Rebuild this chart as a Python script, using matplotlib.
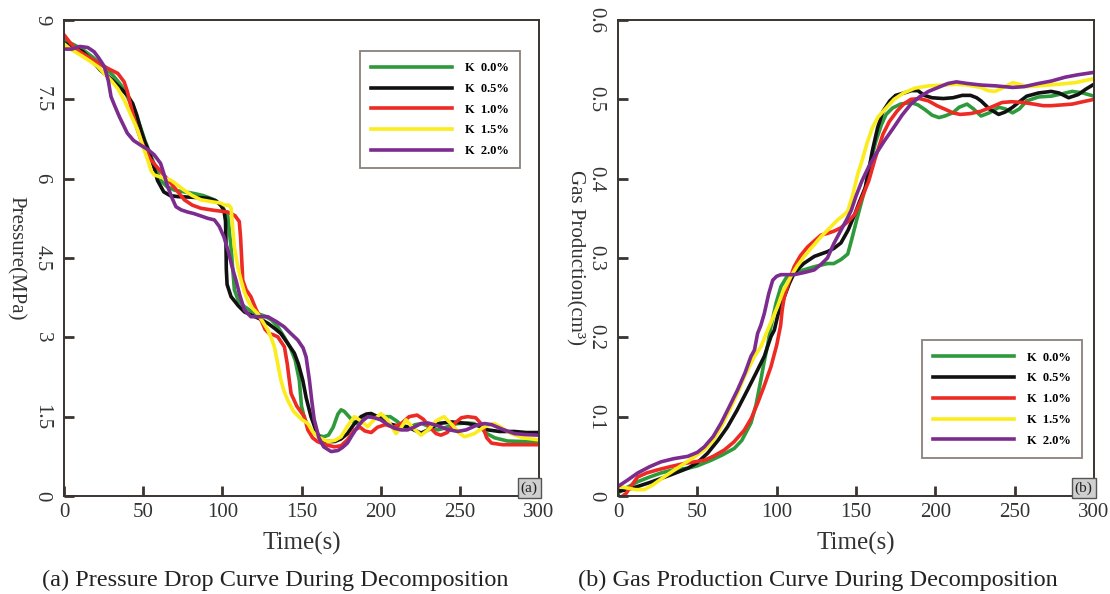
import matplotlib
matplotlib.use("Agg")
import matplotlib.pyplot as plt

plt.rcParams["font.family"] = ["Liberation Serif", "DejaVu Serif"]

# ---- (a) pressure, MPa ----
p_green_t = [0, 5, 11, 18, 25, 31, 36, 40, 44, 48, 51, 56, 61, 65, 70, 76, 82, 88, 95, 99, 101, 103.4, 105.5, 107.6, 110, 114, 118, 122, 127, 131, 135, 139, 143, 146, 148.6, 150, 152, 156, 160, 164, 167, 170, 173, 175, 177, 180, 183, 186, 189, 192, 199, 206, 210, 214, 218, 222, 226, 230, 236, 240, 245, 249, 255, 259, 263, 267, 272, 280, 290, 300]
p_green = [8.62, 8.55, 8.46, 8.3, 8.12, 7.95, 7.77, 7.55, 7.3, 7.0, 6.73, 6.35, 5.97, 5.85, 5.78, 5.75, 5.72, 5.68, 5.6, 5.5, 5.42, 5.3, 4.7, 3.9, 3.7, 3.58, 3.5, 3.45, 3.4, 3.33, 3.2, 3.01, 2.8, 2.57, 2.19, 1.7, 1.45, 1.25, 1.15, 1.12, 1.15, 1.3, 1.55, 1.63, 1.6, 1.5, 1.4, 1.37, 1.45, 1.5, 1.5, 1.5, 1.42, 1.32, 1.3, 1.35, 1.37, 1.32, 1.25, 1.28, 1.35, 1.37, 1.38, 1.37, 1.3, 1.18, 1.1, 1.04, 1.03, 1.03]

p_black_t = [0, 5, 12, 18, 23, 30, 36, 40, 43.4, 46, 48.6, 51, 54, 57, 59, 63, 67, 72, 80, 86, 91, 96, 99, 101, 102, 102.3, 102.5, 103, 105.5, 110, 114, 120, 125, 129, 133, 137, 141, 145.5, 148, 150.8, 153, 156, 159, 162, 166, 171, 175, 179, 183, 187.6, 191, 194, 198, 204.5, 210, 217, 221, 225.5, 230, 236, 245, 255, 262, 267.7, 275, 284.5, 292, 300]
p_black = [8.57, 8.5, 8.4, 8.22, 8.05, 7.88, 7.7, 7.58, 7.42, 7.2, 6.92, 6.7, 6.48, 6.2, 5.97, 5.75, 5.68, 5.66, 5.65, 5.64, 5.63, 5.58, 5.5, 5.4, 5.2, 4.8, 4.3, 4.0, 3.77, 3.6, 3.48, 3.4, 3.33, 3.26, 3.17, 3.07, 2.9, 2.7, 2.5, 2.19, 1.85, 1.5, 1.25, 1.06, 1.03, 1.03, 1.08, 1.18, 1.35, 1.5, 1.55, 1.56, 1.5, 1.37, 1.33, 1.31, 1.25, 1.19, 1.25, 1.37, 1.4, 1.37, 1.33, 1.25, 1.22, 1.22, 1.2, 1.2]

p_red_t = [0, 4.4, 10, 17, 25.5, 30, 34, 38, 40, 42.3, 45, 48.6, 52, 55, 61.3, 67.6, 72, 76, 81, 86.5, 95, 103.4, 105.5, 108, 110.7, 111.5, 112.2, 112.9, 115, 118, 121, 124.4, 127, 129.7, 132, 135, 139.2, 141, 142.3, 143.4, 147, 151.8, 154, 157, 160, 165, 170.8, 175, 179, 183.4, 187, 190, 194, 198, 203, 208, 213, 218, 223, 227, 231, 235, 238, 242, 247, 251, 255, 260, 264, 267, 270, 277, 290, 300]
p_red = [8.72, 8.55, 8.4, 8.27, 8.12, 8.05, 7.99, 7.83, 7.65, 7.36, 7.05, 6.73, 6.5, 6.35, 6.13, 5.91, 5.75, 5.6, 5.5, 5.44, 5.4, 5.37, 5.34, 5.3, 5.19, 4.9, 4.5, 4.08, 3.9, 3.77, 3.55, 3.33, 3.15, 3.07, 3.05, 3.01, 2.82, 2.5, 2.19, 1.94, 1.7, 1.5, 1.25, 1.1, 1.03, 0.97, 0.93, 0.95, 1.06, 1.25, 1.3, 1.23, 1.2, 1.3, 1.35, 1.3, 1.37, 1.5, 1.53, 1.45, 1.3, 1.18, 1.15, 1.2, 1.38, 1.48, 1.5, 1.48, 1.35, 1.1, 1.0, 0.97, 0.97, 0.97]

p_yellow_t = [0, 4, 8.6, 15, 21.3, 25, 29.7, 34, 38, 42, 46.5, 50, 52.9, 55, 57, 62, 67.6, 72, 76, 81, 86.5, 94, 99, 101.3, 104, 105.5, 106.5, 107.6, 110, 111.8, 114, 116, 119, 122.3, 125, 128.7, 131, 132.9, 135, 137, 139, 141.3, 145, 150, 154, 157, 160.2, 166.6, 171, 175, 179, 183.4, 187, 191.8, 196, 200.2, 204, 209.7, 213, 216, 220, 225.5, 230, 235, 240, 245, 250, 253, 259.2, 265, 271.8, 276, 282.4, 290, 300]
p_yellow = [8.55, 8.45, 8.37, 8.25, 8.12, 8.0, 7.86, 7.7, 7.49, 7.22, 6.92, 6.6, 6.35, 6.15, 6.07, 6.02, 5.97, 5.87, 5.78, 5.68, 5.6, 5.56, 5.54, 5.5, 5.5, 5.45, 5.1, 4.71, 4.3, 4.08, 3.85, 3.7, 3.55, 3.45, 3.32, 3.14, 2.98, 2.82, 2.5, 2.19, 1.98, 1.81, 1.6, 1.45, 1.37, 1.22, 1.12, 1.03, 1.05, 1.12, 1.32, 1.5, 1.43, 1.31, 1.45, 1.56, 1.45, 1.18, 1.3, 1.44, 1.3, 1.15, 1.25, 1.42, 1.5, 1.35, 1.18, 1.12, 1.18, 1.3, 1.37, 1.3, 1.18, 1.1, 1.06]

p_purple_t = [0, 5, 10, 15, 19, 22, 25.5, 28, 29.7, 32, 35, 40, 44, 48.6, 53, 57, 61, 63, 65.5, 68, 70.7, 74, 78, 82, 86, 90.8, 95, 98, 101, 104, 106, 108.6, 111, 113.9, 118, 124, 128.7, 134, 139, 143, 147.6, 151, 152.9, 155, 156.5, 158, 161, 164, 168.7, 173, 176, 179, 182, 185.5, 188.5, 191.8, 196, 200, 204, 208.7, 213, 217, 221, 225.5, 230, 236, 242, 248.7, 254, 260, 265.5, 270, 277, 284.5, 292, 300]
p_purple = [8.45, 8.45, 8.5, 8.48, 8.4, 8.28, 8.12, 7.85, 7.55, 7.38, 7.17, 6.86, 6.72, 6.63, 6.55, 6.45, 6.29, 6.1, 5.85, 5.65, 5.47, 5.41, 5.37, 5.34, 5.3, 5.25, 5.22, 5.1, 4.9, 4.6, 4.35, 4.08, 3.8, 3.52, 3.39, 3.39, 3.39, 3.3, 3.2, 3.08, 2.95, 2.8, 2.63, 2.19, 1.8, 1.45, 1.1, 0.93, 0.84, 0.86, 0.92, 1.0, 1.15, 1.31, 1.42, 1.5, 1.48, 1.44, 1.36, 1.28, 1.25, 1.25, 1.3, 1.37, 1.38, 1.33, 1.26, 1.22, 1.25, 1.33, 1.37, 1.35, 1.26, 1.18, 1.16, 1.15]

# ---- (b) gas production, cm3 ----
g_green_t = [0, 5, 12.4, 20, 27, 35, 44, 50, 58.6, 66, 73.3, 78, 83.8, 87, 90, 92, 94.3, 96, 99.6, 102.7, 106, 111, 117, 123.7, 132, 136, 140.5, 144.8, 147.5, 150.3, 155.9, 159, 162.5, 166, 169, 173, 178, 184.6, 189, 193.5, 198, 202.3, 206, 211, 215, 220, 224, 228.8, 234, 240, 244, 248.7, 253, 257.6, 265, 273, 280, 286.3, 293, 300]
g_green = [0.004, 0.01, 0.018, 0.024, 0.029, 0.033, 0.035, 0.038, 0.045, 0.052, 0.06, 0.07, 0.092, 0.115, 0.146, 0.168, 0.19, 0.21, 0.243, 0.264, 0.275, 0.281, 0.285, 0.289, 0.293, 0.293, 0.298, 0.305, 0.325, 0.347, 0.389, 0.42, 0.447, 0.468, 0.481, 0.489, 0.494, 0.496, 0.493, 0.487, 0.48, 0.477, 0.479, 0.483, 0.49, 0.494, 0.488, 0.479, 0.483, 0.49, 0.488, 0.483, 0.488, 0.498, 0.503, 0.504, 0.507, 0.51, 0.508, 0.504]

g_black_t = [0, 6, 12.4, 20, 27, 35, 44, 50, 56.5, 63, 69, 75, 81.7, 87, 92.2, 96.4, 98.5, 101, 104.8, 108, 111, 117, 123.7, 132, 136, 140.5, 145, 149.2, 152, 155.9, 158, 160.3, 163.6, 167, 171.3, 175, 180.2, 185, 189, 193, 197.9, 205, 211.1, 217, 222.2, 226, 228.8, 234, 239.9, 244, 248.7, 253, 257.6, 265, 273, 278, 284, 290, 295, 300]
g_black = [0.006, 0.008, 0.012, 0.017, 0.022, 0.028, 0.035, 0.042, 0.054, 0.07, 0.087, 0.108, 0.134, 0.155, 0.176, 0.201, 0.209, 0.23, 0.251, 0.268, 0.281, 0.293, 0.302, 0.308, 0.312, 0.319, 0.335, 0.355, 0.37, 0.389, 0.41, 0.435, 0.464, 0.485, 0.498, 0.505, 0.508, 0.511, 0.511, 0.505, 0.502, 0.501, 0.502, 0.505, 0.505, 0.502, 0.498, 0.488, 0.481, 0.484, 0.49, 0.497, 0.504, 0.508, 0.51, 0.508, 0.502, 0.506, 0.513, 0.519]

g_red_t = [3, 5, 8, 12.4, 18, 25, 33, 41.8, 48, 54.4, 60, 67, 73, 79.6, 84, 88, 92, 96.4, 100, 102.5, 103.5, 104.8, 108, 111, 115, 119.5, 124, 128, 132, 136.3, 140.4, 145, 149.2, 153, 158, 162, 167, 171, 175.8, 180, 184.6, 190, 195.7, 201, 206.7, 211, 215.6, 222, 228.8, 235, 242, 248, 255.4, 262, 268, 273, 280, 286.3, 293, 300]
g_red = [0.0, 0.003, 0.012, 0.024, 0.029, 0.033, 0.037, 0.041, 0.043, 0.045, 0.05, 0.058, 0.068, 0.083, 0.098, 0.117, 0.138, 0.163, 0.19, 0.215, 0.235, 0.251, 0.272, 0.289, 0.303, 0.314, 0.322, 0.329, 0.331, 0.334, 0.338, 0.346, 0.355, 0.372, 0.397, 0.425, 0.456, 0.472, 0.485, 0.494, 0.5, 0.501, 0.498, 0.492, 0.487, 0.483, 0.481, 0.482, 0.485, 0.49, 0.496, 0.497, 0.496, 0.494, 0.492, 0.492, 0.493, 0.494, 0.497, 0.5]

g_yellow_t = [0, 3, 6, 11, 16.6, 22, 29, 35, 41.8, 48, 54.4, 60, 65, 70, 75.4, 80, 86, 90, 94.3, 100.6, 104, 109, 113, 117.4, 122, 128, 133, 138.4, 141, 144.8, 148, 151, 153.7, 157, 160.3, 164, 169, 174, 180, 187, 195.7, 205, 213.3, 220, 228.8, 233, 237.7, 243, 248.7, 253, 257.6, 265, 277.5, 288, 300]
g_yellow = [0.012, 0.011, 0.01, 0.008, 0.008, 0.014, 0.024, 0.032, 0.041, 0.049, 0.058, 0.07, 0.087, 0.107, 0.13, 0.152, 0.176, 0.188, 0.209, 0.239, 0.258, 0.277, 0.29, 0.302, 0.313, 0.327, 0.337, 0.348, 0.352, 0.359, 0.38, 0.405, 0.422, 0.445, 0.464, 0.478, 0.489, 0.5, 0.508, 0.514, 0.517, 0.518, 0.519, 0.518, 0.515, 0.511, 0.51, 0.515, 0.521, 0.519, 0.516, 0.517, 0.519, 0.521, 0.526]

g_purple_t = [0, 6, 12.4, 20, 27, 35, 44, 50, 54.4, 60, 65, 70, 75.4, 80, 83.8, 86, 88, 90, 92.2, 95, 97.5, 100, 102.7, 111, 118, 123.7, 128, 132, 136, 140.5, 144, 147, 150, 153.7, 158, 162.5, 168, 173.6, 179, 184.6, 190, 195.7, 203, 208, 213.3, 220, 228.8, 238, 248.7, 256, 265, 273, 282, 290, 300]
g_purple = [0.012, 0.02, 0.029, 0.037, 0.043, 0.047, 0.05, 0.055, 0.062, 0.075, 0.092, 0.112, 0.134, 0.155, 0.176, 0.184, 0.205, 0.215, 0.23, 0.255, 0.272, 0.277, 0.279, 0.279, 0.282, 0.285, 0.292, 0.3, 0.318, 0.335, 0.348, 0.36, 0.378, 0.397, 0.415, 0.431, 0.448, 0.464, 0.48, 0.494, 0.503, 0.51, 0.516, 0.52, 0.522, 0.52, 0.518, 0.517, 0.515, 0.516, 0.52, 0.523, 0.528, 0.531, 0.534]

labels = ["K  0.0%", "K  0.5%", "K  1.0%", "K  1.5%", "K  2.0%"]
colors = ["#2e9a3c", "#111111", "#ee2a24", "#fbec1c", "#7c2c8e"]

pressure = [(p_green_t, p_green), (p_black_t, p_black), (p_red_t, p_red),
            (p_yellow_t, p_yellow), (p_purple_t, p_purple)]
gas = [(g_green_t, g_green), (g_black_t, g_black), (g_red_t, g_red),
       (g_yellow_t, g_yellow), (g_purple_t, g_purple)]

SPINE = "#3a3330"

fig = plt.figure(figsize=(11.1, 5.94), dpi=100)
ax_a = fig.add_axes([64 / 1110, 98 / 594, 475 / 1110, 476 / 594])
ax_b = fig.add_axes([618 / 1110, 98 / 594, 476 / 1110, 476 / 594])


def style(ax, yticks, ylabels, ylim, ylabel, label_x, tag):
    ax.set_xlim(0, 300)
    ax.set_ylim(*ylim)
    ax.set_xticks([0, 50, 100, 150, 200, 250, 300])
    ax.set_yticks(yticks)
    ax.set_yticklabels(ylabels, rotation=270, va="center")
    for s in ax.spines.values():
        s.set_color(SPINE)
        s.set_linewidth(1.4)
    ax.tick_params(direction="in", length=7, width=2, color=SPINE,
                   labelsize=15, labelcolor="#333")
    ax.tick_params(axis="y", pad=9)
    ax.tick_params(axis="x", pad=5)
    ax.set_xlabel("Time(s)", fontsize=18, color="#333", labelpad=7)
    ax.set_ylabel(ylabel, fontsize=15, color="#333", rotation=270,
                  ha="center", va="center")
    ax.yaxis.set_label_coords(label_x, 0.5)
    ax.text(0.997, 0.003, tag, transform=ax.transAxes, ha="right", va="bottom",
            fontsize=11, color="#222",
            bbox=dict(boxstyle="square,pad=0.2", fc="#cfcfcf", ec="#555", lw=1))


for (t, v), c, lab in zip(pressure, colors, labels):
    ax_a.plot(t, v, color=c, lw=2.6, label=lab, solid_joinstyle="round")
for (t, v), c, lab in zip(gas, colors, labels):
    ax_b.plot(t, v, color=c, lw=2.6, label=lab, solid_joinstyle="round")

style(ax_a, [0, 1.5, 3, 4.5, 6, 7.5, 9], ["0", "1.5", "3", "4.5", "6", "7.5", "9"],
      (0, 9), "Pressure(MPa)", -0.103, "(a)")
style(ax_b, [0, 0.1, 0.2, 0.3, 0.4, 0.5, 0.6], ["0", "0.1", "0.2", "0.3", "0.4", "0.5", "0.6"],
      (0, 0.6), "Gas Production(cm³)", -0.09, "(b)")

leg_kw = dict(prop={"weight": "bold", "size": 9}, handlelength=6.5, handletextpad=1.0,
              labelspacing=0.7, borderpad=0.9, fancybox=False, framealpha=1,
              edgecolor="#8a807c", borderaxespad=0)
lg = ax_a.legend(loc="upper right", bbox_to_anchor=(0.96, 0.935), **leg_kw)
lg.get_frame().set_linewidth(1.3)
lg = ax_b.legend(loc="lower right", bbox_to_anchor=(0.975, 0.08), **leg_kw)
lg.get_frame().set_linewidth(1.3)

fig.text(275 / 1110, 1 - 580 / 594, "(a) Pressure Drop Curve During Decomposition",
         ha="center", va="center", fontsize=17.5, color="#222")
fig.text(818 / 1110, 1 - 580 / 594, "(b) Gas Production Curve During Decomposition",
         ha="center", va="center", fontsize=17.5, color="#222")

fig.savefig("out.png", dpi=100)
